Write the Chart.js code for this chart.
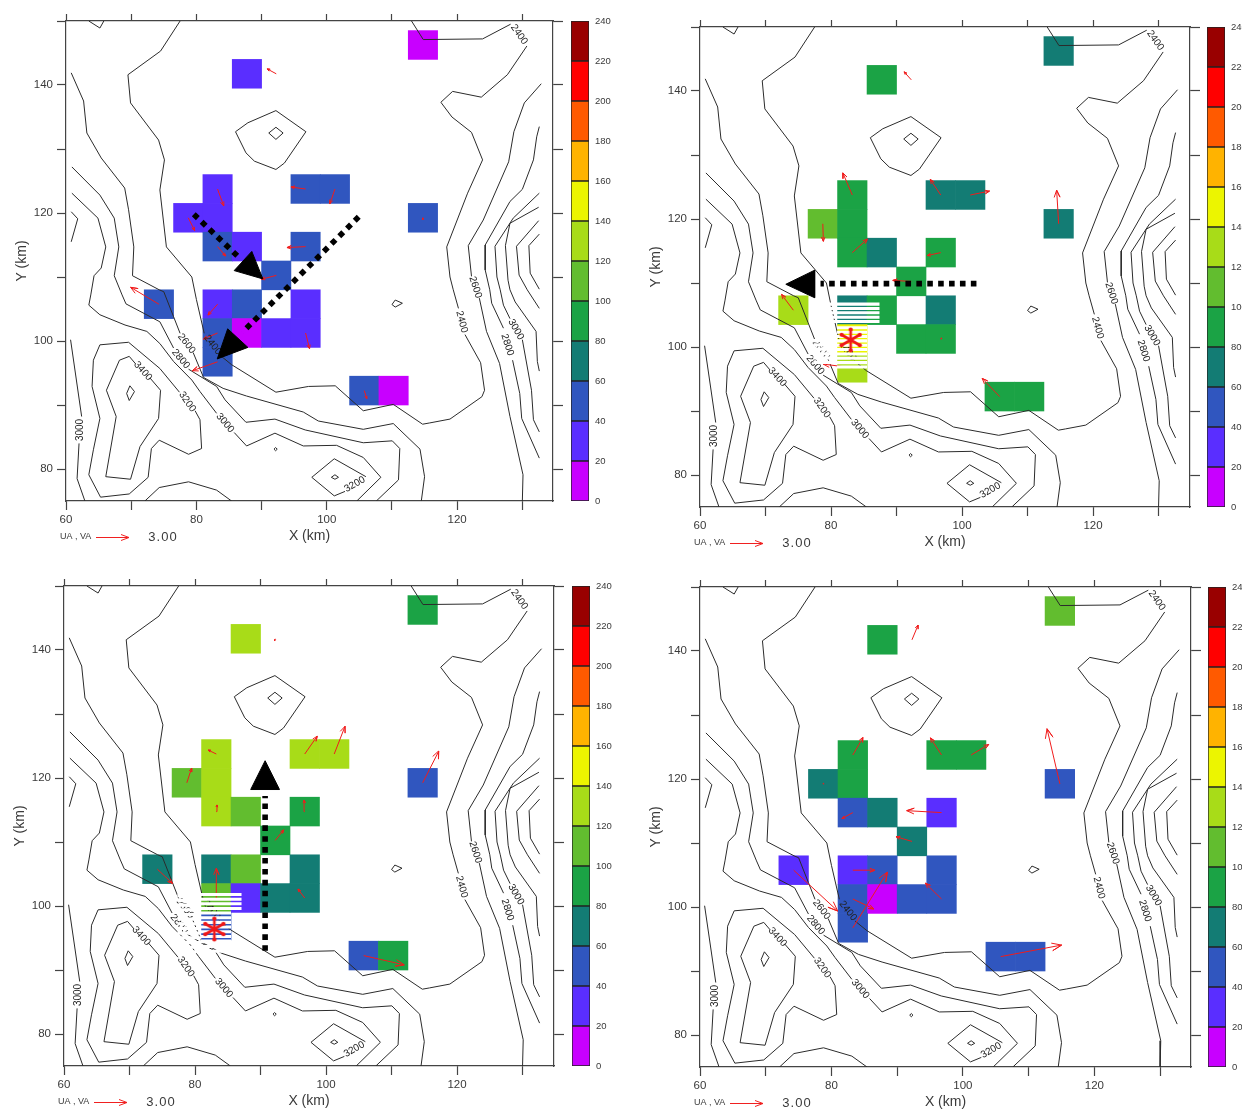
<!DOCTYPE html>
<html><head><meta charset="utf-8">
<style>html,body{margin:0;padding:0;background:#fff;overflow:hidden;width:1242px;height:1109px}canvas{position:absolute}</style>
<script src="https://cdn.jsdelivr.net/npm/chart.js@4/dist/chart.umd.min.js"></script>
</head><body>
<script>
// ---- Colour bands (0-240 by 20) ----
const bandEdges=[0,20,40,60,80,100,120,140,160,180,200,220,240];
const bandColors=['#c800ff','#5a2eff','#3056bf','#137c74','#1ba345','#62bd2f','#a8dc18','#ecf500','#ffb300','#ff5a00','#ff0000','#990000'];
// ---- Grid cells (column, row on 4.5 km grid) ----
const cellCols=[9,3,2,5,6,1,2,9,2,3,5,4,0,2,3,5,2,3,4,5,2,7,8];
const cellRows=[12,11,7,7,7,6,6,6,5,5,5,4,3,3,3,3,2,2,2,2,1,0,0];
const valuesA=[10,30,30,50,50,30,30,50,50,30,50,50,50,30,50,30,50,10,30,30,50,50,10];
const valuesB=[70,90,90,70,70,110,90,70,90,70,90,90,130,70,90,70,150,null,90,90,130,90,90];
const valuesC=[90,130,130,130,130,110,130,50,130,110,90,90,70,70,110,70,110,30,70,70,50,50,90];
const valuesD=[110,90,90,90,90,70,90,50,50,70,30,70,30,30,50,50,50,10,50,50,50,50,50];
// ---- Wind vectors [col,row,UA,VA] ----
const vectorsA=[[0,3,-2.55,1.55],[2,3,-.86,-1],[2,2,-1.27,-.55],[2,1,-2.27,-.82],[5,2,.36,-1.45],[7,0,.23,-.73],[4,4,-1.36,-.36],[5,5,-1.68,-.09],[2,5,.73,-.86],[1,6,.59,-1.18],[2,7,.55,-1.55],[5,7,-1.32,.18],[6,7,-.45,-1.36],[4,11,-.82,.45],[9,6,0,-.18]];
const vectorsB=[[2,7,-.85,2.03],[5,7,-.94,1.43],[6,7,1.73,.36],[9,6,-.18,3.09],[4,11,-.64,.73],[1,6,.05,-1.61],[2,5,1.36,1.25],[5,5,-1.21,-.27],[4,4,-1.66,.09],[0,3,-1.06,1.45],[2,1,-2.61,.34],[7,0,-1.57,1.67],[5,2,.09,.09]];
const vectorsC=[[2,7,-.73,.36],[5,7,1.12,1.64],[6,7,.97,2.55],[1,6,.43,1.36],[9,6,1.45,2.91],[2,5,.06,.61],[5,5,-.06,1.06],[4,4,.75,.97],[0,3,1.36,-1.3],[2,2,0,2.73],[5,2,-.61,.82],[7,0,3.64,-.85],[4,11,-.05,-.18]];
const vectorsD=[[2,7,.91,1.61],[5,7,-1,1.57],[6,7,1.57,.97],[9,6,-1.15,5.06],[1,6,.05,.05],[4,11,.55,1.36],[2,5,-.97,-.55],[5,5,-3.12,.18],[4,4,-1.43,.43],[0,3,3.94,-3.75],[2,3,1.97,0],[2,2,1.88,-.91],[2,1,3.09,5.12],[5,2,-1.45,1.45],[7,0,5.45,1.06]];
// ---- Terrain contours (km); null = break for a label ----
const contour2400=[[113,150],[114.8,147.1],[123.9,147.2],[128.2,149.5],null,[130.7,146.1],[127.7,141.6],[123.7,138.1],[119.3,139],[117.5,137.3],[119.2,135],[122.2,132.6],[123.9,128.3],[121.6,123.1],[118.4,114.7],[118.9,110],[119.4,108],[120.2,105.1],null,[121.2,101],[123.6,96.6],[124.2,92.3],[123.8,91.3],[118.9,87.8],[115.8,87.2],[114.7,87],[110.2,90.1],[105.6,89.1],[101.3,93],[97.2,92.9],[92.2,92],[85.4,96.3],[83.6,97.8],null,[81.2,101.2],[80,106.5],[79.3,110],[75.4,114.7],[74.4,123.6],[75.1,128.3],[74.2,131.4],[69.9,137.2],[69.5,141.6],[74.5,145.3],[77.5,150]];
const contour2600a=[[60.8,141.9],[62.7,137.5],[63.2,132.5],[65.4,128.6],[69,123.9],[69.6,120.5],[70.4,114.7],[70.2,110.2],[74.3,108],[75,107.7],[76.5,103.8],[77.5,101.2],null,[79.5,98.2],[81.1,94.3],[84.1,92.6],[87.7,91.4],[96.4,88.9],[98.7,87.5],[105.6,86.2],[110.2,87.1],[114.3,83.1],[115,78.8],[114.5,75]];
const contour2800a=[[60.9,127.2],[65.2,122.8],[67.4,119.2],[68.1,114.7],[67.4,110.2],[68.6,107.2],[69.2,105.8],[74.4,103],[76.5,98.9],null,[78.8,95.6],[83.1,92.9],[84.4,90.8],[87.6,87.3],[92.05,87.8],[96.7,86.1],[105.6,84.1],[110.05,84.4],[111.2,83.2],[111,78.3],[107.6,75]];
const contour3000a=[[60.9,123.1],[64.9,119.2],[66.1,114.7],[65.4,111.4],[64.3,110.2],[63.8,107.2],[63.5,105.6],[65.2,104.1],[69.05,102.5],[72.4,101.5],[74.4,99.6],[76.5,96.8],[79.3,93.9],[80.55,92.1],[83.1,88.7],null,[85.8,85.7],[87.7,83.6],[92.05,85.6],[96.4,83.6],[101.5,83.7],[105.6,81.8],[108.3,78.7],[104.6,75]];
const contour3000b=[[60.7,100.2],[62.4,88.2],null,[62,84],[61.7,78.5],[62.9,75]];
const contour3200a=[[65.2,99.4],[64.2,97],[64,92.9],[65.2,87.9],[64.2,83],[63.5,79.1],[65.3,75.6],[69.7,76.1],[72.6,78.7],[73.1,83.2],[74.3,84.5],[78.8,82.3],[80.8,83.2],[80.55,87.7],[79.8,89.1],null,[77.4,92],[74.4,95.7],[69.6,99.8],[65.2,99.4]];
const contour3400=[[70.7,96.4],[69.7,97.6],[68.2,97],[66.2,92.3],[67.7,88.2],[66.1,78.8],[69.9,78.4],[71.35,83.5],[74.2,87.9],[74.5,92.3],[72.9,94.2]];
const contour3600=[[69.8,93],[69.3,91.8],[69.7,90.7],[70.5,92.1],[69.8,93]];
const contourBottomArc=[[72.1,75],[74.3,77.1],[78.8,78],[83.1,76.7],[85.4,75]];
const contour3200b=[[106,78.8],[101.15,81.6],[97.7,78.7],[101.15,75.8],[102.8,76.5]];
const contourPeakB=[[100.7,78.7],[101.25,79.1],[101.8,78.7],[101.25,78.4],[100.7,78.7]];
const contourDot=[[91.9,83.1],[92.15,83.35],[92.4,83.1],[92.15,82.85],[91.9,83.1]];
const contourIsland=[[110,105.7],[110.5,106.4],[111.6,105.9],[110.5,105.3],[110,105.7]];
const contourHillOuter=[[92.2,136],[96.8,132.7],[93.5,127.8],[92.2,126.8],[88.9,128.1],[87.6,129.4],[86,132.7],[87.9,134.1],[92.2,136]];
const contourHillInner=[[92.2,133.4],[93.3,132.5],[92.2,131.5],[91.1,132.5],[92.2,133.4]];
const contourRight1=[[132.9,140.2],[130.3,137.2],[128.7,132.7],[127.9,128],[124,118.9],[121.7,114.9],[122.2,110.1],null,[123.4,106.7],[124.5,101.5],[126.5,96.5],[128.1,88.2],[130.1,79.1],[130,75]];
const contourRight2=[[132.6,133.5],[132.2,131.9],[131.7,128.3],[130,123.7],[128.1,121.8],[124.3,115],[124.3,111.1],[125,108],[125.3,105.9],[127.1,102],null,[128.5,97],[129.6,91.8],[129.9,87.9],[132.6,81.7]];
const contourRight3=[[132.6,123.1],[128.6,119.2],[125.8,114.8],[126.1,110],[126.6,108],[127.1,105.6],[128.1,103.5],null,[130,100.2],[131.4,92.3],[131.7,87.7],[132.6,85.8]];
const contourRight4=[[132.5,120.9],[128.1,118.4],[127.4,114.9],[127.8,109.5],[128.1,108],[128.9,106.1],[132.1,101.5],[132.3,96.8],[132.6,95.3]];
const contourRight5=[[132.5,118.8],[129.1,114.8],[129.5,110.3],[130.75,108],[132.6,105.1]];
const contourRight6=[[132.6,116.7],[131,114.9],[131.2,110.6],[132.6,108.1]];
const contourLeftSmall=[[60.8,120.2],[61.8,119.1],[60.8,115.5]];
const contourTopSmall=[[63.5,150],[65.2,148.9],[65.8,150]];
const allContours=[contour2400,contour2600a,contour2800a,contour3000a,contour3000b,contour3200a,contour3400,contour3600,contourBottomArc,contour3200b,contourPeakB,contourDot,contourIsland,contourHillOuter,contourHillInner,contourRight1,contourRight2,contourRight3,contourRight4,contourRight5,contourRight6,contourLeftSmall,contourTopSmall];
// [text,x,y,angle]
const contourLabels=[['2400',129.5,147.9,55],['2400',120.7,103,75],['2800',127.7,99.4,72],['3000',129,101.8,60],['2600',122.8,108.4,72],['2600',78.5,99.6,52],['2400',82.5,99.4,52],['2800',77.6,97.2,50],['3200',78.6,90.5,55],['3400',71.8,95.3,48],['3000',62.25,86.1,-90],['3000',84.4,87.2,50],['3200',104.3,77.6,-30]];
// ---- Hand-drawn annotations ----
const dottedA=[[[79.6,119.8],[86.8,112.8]],[[104.9,119.4],[87.1,101.4]]];
const headsA=[[[88.5,114],[85.8,111],[90.2,109.7]],[[84.8,101.9],[87.9,99],[83.2,97.2]]];
const dottedB=[[[102.2,109.9],[78.4,109.9]]];
const headsB=[[[77.5,112],[77.5,107.7],[73.1,109.8]]];
const dottedC=[[[90.7,93],[90.7,117.2]]];
const headsC=[[[90.7,122.7],[88.5,118.2],[92.9,118.2]]];
const hatchB=[[79.2,87.4,103.5,106.8],[80.9,85.5,96.8,103.1],[77.3,80.9,97.6,101.1]];
const hatchC=[[80.9,87.1,99,101.9],[80.9,85.5,94.5,99],[77.3,80.9,92.7,101.7],[80.9,86.9,92.7,94.5]];
const starB=[[83,101.1]];
const starC=[[82.95,96.4]];

const INK='#3a3a3a';
const FONT="'Liberation Sans',Arial,sans-serif";
const toXY=a=>a.map(p=>p?{x:p[0],y:p[1]}:{x:null,y:null});

function starCanvas(){
  const c=document.createElement('canvas');c.width=28;c.height=28;
  const g=c.getContext('2d');g.translate(14,14);g.strokeStyle=g.fillStyle='#f01818';g.lineWidth=2.6;
  for(let i=0;i<6;i++){const a=i*Math.PI/3;const ex=Math.sin(a)*10.5,ey=-Math.cos(a)*10.5;
    g.beginPath();g.moveTo(0,0);g.lineTo(ex,ey);g.stroke();
    g.beginPath();g.arc(ex,ey,2.1,0,7);g.fill();}
  return c;
}
const starImg=starCanvas();

const labelPlugin={id:'contourText',
  beforeDatasetDraw(chart,args){
    if(!chart.data.datasets[args.index].isHatch) return;
    const g=chart.ctx,sx=chart.scales.x,sy=chart.scales.y;
    g.save();g.font='10px '+FONT;g.fillStyle='#222';g.textAlign='center';g.textBaseline='middle';
    contourLabels.forEach(([t,x,y,a])=>{g.save();g.translate(sx.getPixelForValue(x),sy.getPixelForValue(y));g.rotate(a*Math.PI/180);g.fillText(t,0,0);g.restore();});
    g.restore();
  },
  afterDraw(chart){
    const g=chart.ctx,a=chart.chartArea,yy=a.bottom+36;
    g.save();g.textBaseline='middle';g.textAlign='left';g.fillStyle=INK;
    g.font='9px '+FONT;g.fillText('UA , VA',a.left-6,yy);
    g.strokeStyle='#f02020';g.lineWidth=1;g.beginPath();
    const x0=a.left+30,x1=a.left+63;
    g.moveTo(x0,yy+.5);g.lineTo(x1,yy+.5);g.moveTo(x1-8,yy-2.5);g.lineTo(x1,yy+.5);g.lineTo(x1-8,yy+3.5);g.stroke();
    g.font='13px '+FONT;g.letterSpacing='1px';g.fillStyle=INK;g.textAlign='center';g.fillText('3.00',a.left+97,yy);
    g.restore();
  }};

function cellData(values){
  const out=[];values.forEach((v,i)=>{if(v!==null)out.push({x:74.25+4.5*cellCols[i],y:[90+4.5*cellRows[i],94.5+4.5*cellRows[i]],v});});
  return out;
}
function vectorPath(vecs){
  const K=1.70,out=[];
  vecs.forEach(([k,j,u,v])=>{
    const x=74.25+4.5*k,y=92.25+4.5*j,hx=x+u*K,hy=y+v*K,len=Math.hypot(u,v)*K,L=Math.min(.2*len+.15,1.6),ang=Math.atan2(v,u);
    const b=s=>({x:hx-L*Math.cos(ang+s),y:hy-L*Math.sin(ang+s)});
    out.push({x,y},{x:hx,y:hy},b(.38),{x:hx,y:hy},b(-.38),{x:null,y:null});
  });
  return out;
}
function hatchPath(boxes,step){
  const out=[];
  boxes.forEach(([x0,x1,y0,y1])=>{for(let y=y1-.1;y>y0-.05;y-=step){out.push({x:x0,y},{x:x1,y},{x:null,y:null});}});
  return out;
}
function noPadYcb(s){s.paddingTop=0;s.paddingBottom=0}
function panel(g){
  const cv=document.createElement('canvas');
  const pl=56,pr=12,pt=9,pb=46;
  const W=g.R-g.L+pl+pr,H=g.B-g.T+pt+pb;
  cv.width=W;cv.height=H;cv.style.cssText=`left:${g.L-pl}px;top:${g.T-pt}px;width:${W}px;height:${H}px`;
  document.body.appendChild(cv);
  const cells=cellData(g.values);
  const line={type:'scatter',showLine:true,pointRadius:0,xAxisID:'x',yAxisID:'y'};
  const ds=[{type:'bar',data:cells,backgroundColor:cells.map(c=>bandColors[Math.floor(c.v/20)]),grouped:false,barPercentage:1,categoryPercentage:1,borderWidth:0,order:10,xAxisID:'x',yAxisID:'y'}];
  allContours.forEach(c=>ds.push({...line,data:toXY(c),borderColor:'#2b2b2b',borderWidth:1,order:8}));
  ds.push({...line,data:vectorPath(g.vectors),borderColor:'#f01c1c',borderWidth:1,order:6});
  ds.push({...line,data:hatchPath(g.hatch||[],g.step||.68),borderColor:'#fff',borderWidth:3.05,order:5,isHatch:true});
  (g.dotted||[]).forEach(d=>ds.push({...line,data:toXY(d),borderColor:'#000',borderWidth:5.6,borderDash:[5.6,5.3],order:3}));
  (g.heads||[]).forEach(h=>ds.push({...line,data:toXY([...h,h[0]]),borderColor:'#000',borderWidth:1,backgroundColor:'#000',fill:'shape',order:2}));
  if(g.star) ds.push({type:'scatter',data:toXY(g.star),pointStyle:starImg,pointRadius:12,order:1,xAxisID:'x',yAxisID:'y'});
  const edge={color:'#444',width:1.2};
  const grid={drawOnChartArea:false,tickColor:'#444',tickWidth:1.2};
  const tickFont={family:"'Liberation Sans',Arial,sans-serif",size:11.5};
  const blank=()=>'';
  const noPadX=s=>{s.paddingLeft=0;s.paddingRight=0};
  const noPadY=s=>{s.paddingTop=0;s.paddingBottom=0};
  new Chart(cv,{type:'scatter',data:{datasets:ds},plugins:[labelPlugin],options:{
    responsive:false,animation:false,devicePixelRatio:1,events:[],
    layout:{padding:0,autoPadding:false},
    plugins:{legend:{display:false},tooltip:{enabled:false}},
    scales:{
      x:{type:'linear',position:'bottom',min:60,max:g.xMax,offset:false,border:edge,grid:{...grid,offset:false,tickLength:9},
         ticks:{stepSize:10,includeBounds:false,autoSkip:false,maxRotation:0,padding:3,color:INK,font:tickFont,callback:v=>v%20===0?String(v):''},
         title:{display:true,text:'X (km)',color:INK,font:{family:FONT,size:14},padding:{top:0,bottom:2}},
         afterFit:s=>{s.height=pb;noPadX(s)}},
      x2:{type:'linear',axis:'x',position:'top',min:60,max:g.xMax,offset:false,border:edge,grid:{...grid,offset:false,tickLength:pt-2},
         ticks:{stepSize:10,includeBounds:false,autoSkip:false,maxRotation:0,padding:0,callback:blank,font:{size:1}},afterFit:s=>{s.height=pt;noPadX(s)}},
      y:{type:'linear',position:'left',min:75,max:150,border:edge,grid:{...grid,tickLength:9},
         ticks:{stepSize:10,includeBounds:false,autoSkip:false,padding:4,color:INK,font:tickFont,callback:v=>(v%20===0&&v!==150&&v>=80)?String(v):''},
         title:{display:true,text:'Y (km)',color:INK,font:{family:FONT,size:14},padding:{top:4,bottom:0}},
         afterFit:s=>{s.width=pl;noPadY(s)}},
      y2:{type:'linear',axis:'y',position:'right',min:75,max:150,border:edge,grid:{...grid,tickLength:10},
         ticks:{stepSize:10,includeBounds:false,autoSkip:false,padding:0,callback:blank,font:{size:1}},afterFit:s=>{s.width=pr;noPadY(s)}}
    }}});
  // colour bar
  const cb=document.createElement('canvas');
  const cw=18+60,ch=480+16;
  cb.width=cw;cb.height=ch;cb.style.cssText=`left:${g.cx}px;top:${g.T-8}px;width:${cw}px;height:${ch}px`;
  document.body.appendChild(cb);
  new Chart(cb,{type:'bar',data:{labels:[''],datasets:bandColors.map((c,i)=>({data:[[bandEdges[i],bandEdges[i+1]]],backgroundColor:c,borderColor:'#222',borderWidth:1,borderSkipped:false,grouped:false,barPercentage:1,categoryPercentage:1}))},
    options:{responsive:false,animation:false,devicePixelRatio:1,events:[],layout:{padding:{top:8,bottom:8},autoPadding:false},
      plugins:{legend:{display:false},tooltip:{enabled:false}},
      scales:{x:{display:false},y:{position:'right',min:0,max:240,border:{display:false},grid:{display:false,drawTicks:false},
        ticks:{stepSize:20,padding:6,color:INK,font:{family:FONT,size:9.5},autoSkip:false},afterFit:s=>{s.width=60;noPadYcb(s)}}}}});
}
panel({L:66,R:553,T:21,B:501,cx:571,xMax:134.7,values:valuesA,vectors:vectorsA,dotted:dottedA,heads:headsA});
panel({L:700,R:1190,T:27,B:507,cx:1207,xMax:134.8,values:valuesB,vectors:vectorsB,dotted:dottedB,heads:headsB,hatch:hatchB,step:.68,star:starB});
panel({L:64,R:554,T:586,B:1066,cx:572,xMax:134.8,values:valuesC,vectors:vectorsC,dotted:dottedC,heads:headsC,hatch:hatchC,step:.73,star:starC});
panel({L:700,R:1191,T:587,B:1067,cx:1208,xMax:134.7,values:valuesD,vectors:vectorsD});
</script>
</body></html>
